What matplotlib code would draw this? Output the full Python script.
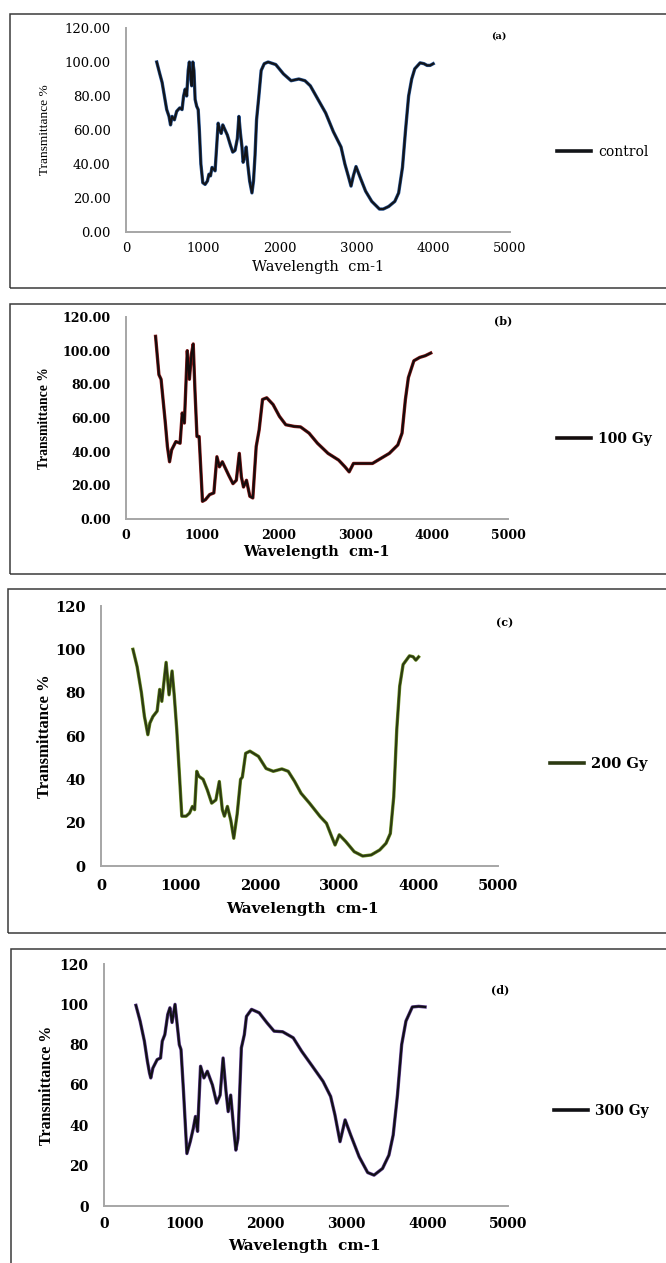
import matplotlib
matplotlib.use("Agg")
import matplotlib.pyplot as plt
from matplotlib.patches import Rectangle
from matplotlib.lines import Line2D
import numpy as np

W, H = 666, 1263

# ---------------- data ----------------
a_x = [400, 440, 470, 500, 530, 560, 580, 600, 630, 660, 700, 730, 750, 770, 790, 810, 825, 845, 855,
       870, 885, 900, 920, 940, 955, 975, 1000, 1030, 1060, 1080, 1100, 1120, 1140, 1160, 1180, 1200,
       1220, 1240, 1260, 1280, 1320, 1360, 1390, 1420, 1450, 1470, 1490, 1510, 1525, 1545, 1565, 1585,
       1610, 1640, 1660, 1680, 1700, 1730, 1760, 1800, 1850, 1950, 2050, 2150, 2250, 2330, 2400, 2500,
       2600, 2700, 2800, 2850, 2900, 2930, 2960, 2995, 3050, 3120, 3200, 3300, 3350, 3420, 3500, 3550,
       3600, 3640, 3680, 3720, 3760, 3830, 3880, 3920, 3960, 4000]
a_y = [100, 93, 88, 80, 72, 68, 63, 68, 66, 71, 73, 72, 80, 84, 80, 95, 100, 90, 86,
       100, 95, 78, 74, 72, 60, 40, 29, 28, 30, 34, 33, 38, 37, 36, 50, 64,
       60, 58, 63, 61, 57, 51, 47, 48, 55, 68, 58, 50, 41, 44, 50, 40,
       30, 23, 30, 45, 66, 80, 95, 99, 100, 98.5, 93, 89, 90, 89, 86, 78,
       70, 59, 50, 40, 32, 27, 33, 38.5, 32, 24, 18, 13.5, 13.5, 15, 18, 23,
       38, 60, 80, 90, 96, 99.5, 99, 98, 98, 99]

b_x = [387, 431, 459, 515, 542, 570, 597, 653, 708, 736, 764, 802, 830, 857, 880, 902, 929, 957,
       1001, 1040, 1095, 1150, 1190, 1223, 1261, 1344, 1400, 1444, 1483, 1510, 1538, 1577, 1621,
       1660, 1704, 1743, 1787, 1842, 1925, 2008, 2091, 2202, 2285, 2396, 2506, 2644, 2783, 2866,
       2921, 2977, 3060, 3226, 3336, 3447, 3558, 3613, 3657, 3696, 3768, 3845, 3917, 3989]
b_y = [108.5, 85.7, 83, 57, 43, 34, 41, 46, 45, 63, 57, 100, 83, 98, 104, 77, 49, 49,
       10.5, 11.5, 14.5, 15.5, 37, 31, 34, 26, 21, 23, 39, 25, 19, 23, 13.5,
       12.5, 43, 53, 71, 72, 68, 61, 56, 55, 54.7, 51, 45, 39, 35, 31,
       28, 33, 33, 33, 36, 39, 44, 51, 71, 84, 94, 96, 97, 98.6]

c_x = [402, 455, 509, 547, 563, 590, 616, 654, 707, 739, 766, 820, 857, 895, 922, 954, 991, 1018,
       1072, 1115, 1152, 1179, 1206, 1233, 1286, 1340, 1394, 1447, 1490, 1528, 1554, 1592, 1635,
       1672, 1715, 1758, 1780, 1822, 1876, 1983, 2079, 2170, 2278, 2358, 2439, 2519, 2626, 2760,
       2840, 2905, 2948, 3001, 3082, 3189, 3296, 3403, 3510, 3590, 3644, 3687, 3725, 3762, 3805,
       3885, 3930, 3965, 4000]
c_y = [100, 92, 80, 69, 66, 60.6, 66, 69, 71.5, 81.5, 76, 94, 79, 90, 79, 63, 40, 23,
       23, 24.4, 27.5, 26, 43.7, 41.4, 40, 35, 29, 30.5, 39, 26, 23, 27.5, 21,
       12.8, 24, 40, 41, 52, 53, 50.6, 45, 43.7, 44.8, 43.7, 39, 33.6, 29, 22.8,
       19.7, 13.6, 9.7, 14.4, 11.3, 6.6, 4.6, 5.1, 7.4, 10.5, 15, 32, 63, 83, 93,
       97, 96.6, 95, 96.5]

d_x = [395, 447, 500, 537, 563, 579, 605, 658, 700, 721, 753, 789, 816, 842, 879, 911, 932, 953,
       984, 1026, 1068, 1105, 1132, 1158, 1195, 1237, 1279, 1342, 1395, 1437, 1474, 1510, 1537,
       1568, 1605, 1632, 1658, 1700, 1737, 1763, 1826, 1921, 2016, 2105, 2211, 2342, 2447, 2579,
       2711, 2805, 2858, 2921, 2984, 3053, 3158, 3263, 3342, 3447, 3526, 3579, 3632, 3684, 3737,
       3816, 3895, 3974]
d_y = [99.5, 91.7, 81.7, 71.8, 66, 63.5, 68.4, 72.6, 73.4, 81.7, 85, 95, 98.3, 91, 100, 88, 80, 77.6,
       56.8, 26, 32, 38.5, 44.4, 37, 69.3, 63.5, 66.8, 60, 51, 55, 73.4, 56.8, 46.8,
       55, 38.5, 27.7, 33.5, 78.4, 85, 94, 97.5, 95.8, 90.9, 86.7, 86.4, 83.4, 76.7, 69.3,
       61.8, 54.3, 45.2, 31.9, 42.7, 35.2, 24.4, 16.6, 15.3, 18.6, 25.2, 35.2, 55, 80, 91.7,
       98.7, 99, 98.7]

series_names = ["control", "100 Gy", "200 Gy", "300 Gy"]
panel_tags = ["(a)", "(b)", "(c)", "(d)"]
x_ticks = [0, 1000, 2000, 3000, 4000, 5000]
y_ticks = [0, 20, 40, 60, 80, 100, 120]

# ---------------- layout (pixels) ----------------
panels = [
    dict(x=a_x, y=a_y, ax=(126, 510, 28, 232), box=(10, 14, 288), fmt="{:.2f}", bold=False,
         under="#24508f", top="#121418", tick=9.5, xl=10.5, yl=9.6, leg=10, tag=7,
         xlab=(318, 267), ylab=(45, 130), tagpos=(499, 36), legpos=(557, 152), pad_y=11, pad_x=7),
    dict(x=b_x, y=b_y, ax=(126, 508, 317, 519), box=(10, 304, 574), fmt="{:.2f}", bold=True,
         under="#8b1a1a", top="#140c0c", tick=9, xl=10.5, yl=9.8, leg=10, tag=8,
         xlab=(316, 552), ylab=(45, 418), tagpos=(503, 321), legpos=(557, 439), pad_y=11, pad_x=7),
    dict(x=c_x, y=c_y, ax=(101, 498, 606, 866), box=(8, 589, 933), fmt="{:d}", bold=True,
         under="#6b8e23", top="#2c3a12", tick=10.5, xl=11, yl=12, leg=10.5, tag=8,
         xlab=(302, 909), ylab=(45, 736), tagpos=(505, 623), legpos=(550, 764), pad_y=11, pad_x=9),
    dict(x=d_x, y=d_y, ax=(104, 508, 964, 1206), box=(11, 949, 1300), fmt="{:d}", bold=True,
         under="#5b3a8c", top="#101014", tick=10, xl=11, yl=11.5, leg=10, tag=8,
         xlab=(304, 1246), ylab=(47, 1085), tagpos=(500, 990), legpos=(554, 1111), pad_y=11, pad_x=8),
]

fig = plt.figure(figsize=(W / 100, H / 100), dpi=100)
fig.patch.set_facecolor("white")

def fx(px):
    return px / W

def fy(py):
    return 1 - py / H

HFONT = "DejaVu Serif"
VFONT = "Liberation Serif"

for i, p in enumerate(panels):
    l, r, t, b = p["ax"]
    bx, by0, by1 = p["box"]
    fig.add_artist(Rectangle((fx(bx), fy(by1)), fx(720 - bx), (by1 - by0) / H,
                             transform=fig.transFigure, fill=False, ec="#3a3a3a", lw=1.1))
    ax = fig.add_axes([fx(l), fy(b), (r - l) / W, (b - t) / H])
    wt = "bold" if p["bold"] else "normal"
    ax.plot(p["x"], p["y"], color=p["under"], lw=2.4, solid_joinstyle="round", zorder=2)
    ax.plot(p["x"], p["y"], color=p["top"], lw=1.5, solid_joinstyle="round", zorder=3,
            label=series_names[i])
    ax.set_xlim(0, 5000)
    ax.set_ylim(0, 120)
    ax.set_xticks(x_ticks)
    ax.set_yticks(y_ticks)
    ax.set_xticklabels([str(v) for v in x_ticks], fontfamily=HFONT, fontsize=p["tick"], fontweight=wt)
    ax.set_yticklabels([p["fmt"].format(v) for v in y_ticks], fontfamily=HFONT, fontsize=p["tick"],
                       fontweight=wt)
    ax.tick_params(axis="both", length=0)
    ax.tick_params(axis="y", pad=p["pad_y"])
    ax.tick_params(axis="x", pad=p["pad_x"])
    for s in ["top", "right"]:
        ax.spines[s].set_visible(False)
    for s in ["left", "bottom"]:
        ax.spines[s].set_color("#a6a6a6")
        ax.spines[s].set_linewidth(1.4)
    ax.patch.set_alpha(0)

    fig.text(fx(p["xlab"][0]), fy(p["xlab"][1]), "Wavelength  cm-1", ha="center", va="center",
             fontfamily=HFONT, fontsize=p["xl"], fontweight=wt)
    fig.text(fx(p["ylab"][0]), fy(p["ylab"][1]), "Transmittance %", ha="center", va="center",
             rotation=90, fontfamily=VFONT, fontsize=p["yl"], fontweight=wt)
    fig.text(fx(p["tagpos"][0]), fy(p["tagpos"][1]), panel_tags[i], ha="center", va="center",
             fontfamily=HFONT, fontsize=p["tag"], fontweight="bold")

    fs_px = p["leg"] * 100 / 72
    ax.legend(handles=[Line2D([], [], color=p["top"], lw=2.6)], labels=[series_names[i]],
              loc="center left", bbox_to_anchor=(fx(p["legpos"][0]), fy(p["legpos"][1])),
              bbox_transform=fig.transFigure, frameon=False, borderpad=0, borderaxespad=0,
              handlelength=34 / fs_px, handletextpad=7 / fs_px,
              prop=dict(family=HFONT, size=p["leg"], weight=wt))

fig.savefig("out.png", dpi=100)
